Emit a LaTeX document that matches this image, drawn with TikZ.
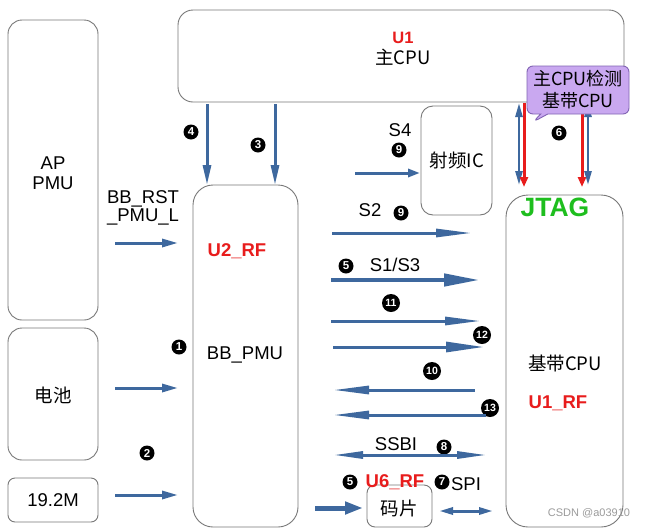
\documentclass[tikz,border=0pt]{standalone}
\usepackage{fontspec}
\setmainfont{Liberation Sans}
\newfontfamily\cjk{Noto Sans CJK SC}
\usetikzlibrary{arrows.meta,shapes.callouts}
\newcommand\myfs[2]{\fontsize{#1}{#2}\selectfont}
\definecolor{boxgray}{RGB}{120,120,120}
\definecolor{myblue}{RGB}{62,104,158}
\definecolor{myred}{RGB}{232,28,28}
\definecolor{mygreen}{RGB}{30,190,30}
\definecolor{calloutfill}{RGB}{201,168,240}
\definecolor{calloutdraw}{RGB}{130,100,180}
\definecolor{wmgray}{RGB}{155,155,155}
\begin{document}
\begin{tikzpicture}[x=1pt,y=-1pt,
  box/.style={draw=boxgray, line width=0.9pt, fill=white, inner sep=0pt},
  lbl/.style={font=\myfs{18.5}{20}, inner sep=0pt, align=center},
  cn/.style={font=\cjk\myfs{18.5}{20}, inner sep=0pt, align=center},
  redlbl/.style={text=myred, font=\bfseries\myfs{18.5}{20}, inner sep=0pt},
  num/.style={circle, fill=black, text=white, inner sep=0pt, minimum size=15pt, font=\bfseries\myfs{11.5}{12}},
  numw/.style={circle, fill=black, text=white, inner sep=0pt, minimum size=18pt, font=\bfseries\myfs{10.5}{11}},
  barrow/.style={draw=myblue, line width=3pt, -{Triangle[length=16pt,width=8pt]}},
  longarrow/.style={draw=myblue, line width=3pt, -{Triangle[length=36pt,width=8pt]}},
  fatarrow/.style={draw=myblue, line width=4.5pt, -{Triangle[length=36pt,width=12pt]}},
  backarrow/.style={draw=myblue, line width=3pt, {Triangle[length=36pt,width=8pt]}-},
  dblarrow/.style={draw=myblue, line width=3pt, {Triangle[length=30pt,width=7pt]}-{Triangle[length=30pt,width=7pt]}},
  shortdbl/.style={draw=myblue, line width=3pt, {Triangle[length=14pt,width=7pt]}-{Triangle[length=14pt,width=7pt]}},
  vdbl/.style={draw=myblue, line width=2.5pt, {Triangle[length=14pt,width=7pt]}-{Triangle[length=14pt,width=7pt]}},
  redarrow/.style={draw=myred, line width=3pt, -{Triangle[length=10pt,width=8pt]}}
]
\useasboundingbox (0,0) rectangle (646,528);
\fill[white] (0,0) rectangle (646,528);

% boxes
\node[box, rounded corners=15pt, minimum width=446pt, minimum height=92pt] (u1) at (401,56) {};
\node[box, rounded corners=14pt, minimum width=90pt, minimum height=300pt] (ap) at (53,170) {};
\node[box, rounded corners=14pt, minimum width=90pt, minimum height=132pt] (bat) at (53,394) {};
\node[box, rounded corners=7pt, minimum width=90pt, minimum height=44pt] (clk) at (53,500) {};
\node[box, rounded corners=20pt, minimum width=105pt, minimum height=342pt] (u2) at (245.5,356) {};
\node[box, rounded corners=12pt, minimum width=71pt, minimum height=109pt] (rf) at (456.5,160.5) {};
\node[box, rounded corners=22pt, minimum width=117pt, minimum height=332pt] (bb) at (564.5,361) {};
\node[box, rounded corners=8pt, minimum width=65pt, minimum height=42pt] (chip) at (399.5,506) {};

% box texts
\node[redlbl, font=\bfseries\myfs{16.5}{18}] (u1t) at (403,38) {U1};
\node[cn] (u1c) at (403,57) {主CPU};
\node[lbl] (apt) at (53,173) {AP\\PMU};
\node[cn] (batt) at (53,395) {电池};
\node[lbl] (clkt) at (53,500) {19.2M};
\node[redlbl] (u2t) at (237,251) {U2\_RF};
\node[lbl] (u2c) at (245,355) {BB\_PMU};
\node[cn] (rft) at (457,160) {射频IC};
\node[text=mygreen, font=\bfseries\myfs{26.5}{27}, inner sep=0pt] (jtag) at (555,207) {JTAG};
\node[cn] (bbt) at (565,363) {基带CPU};
\node[redlbl] (u1rf) at (558,403) {U1\_RF};
\node[cn] (chipt) at (399,508) {码片};

% signal labels
\node[lbl, font=\myfs{18.5}{15.5}] (rst) at (143,208) {BB\_RST\\\_PMU\_L};
\node[lbl] (s4) at (400,130) {S4};
\node[lbl] (s2) at (370,210) {S2};
\node[lbl] (s13) at (395,265) {S1/S3};
\node[lbl] (ssbi) at (396,444) {SSBI};
\node[redlbl] (u6) at (395,482) {U6\_RF};
\node[lbl] (spi) at (466,484) {SPI};

% numbers
\node[num] (n4) at (191,132) {4};
\node[num] (n3) at (258,145) {3};
\node[num] (n1) at (179,347) {1};
\node[num] (n2) at (147,453) {2};
\node[num] (n9a) at (399,150) {9};
\node[num] (n9b) at (401,213) {9};
\node[num] (n5a) at (346,266) {5};
\node[num] (n6) at (559,133) {6};
\node[numw] (n11) at (391,303) {11};
\node[numw] (n12) at (482,335) {12};
\node[numw] (n10) at (432,371) {10};
\node[numw] (n13) at (490,408) {13};
\node[num] (n8) at (444,447) {8};
\node[num] (n5b) at (350,482) {5};
\node[num] (n7) at (442,482) {7};

% coordinates for connector ends
\coordinate (a4s) at (207,104);  \coordinate (a4e) at (207,185);
\coordinate (a3s) at (275,104);  \coordinate (a3e) at (275,185);
\coordinate (rsts) at (115,243); \coordinate (rste) at (178,243);
\coordinate (bats) at (115,388); \coordinate (bate) at (178,388);
\coordinate (clks) at (115,495); \coordinate (clke) at (178,495);
\coordinate (s4s) at (355,173);  \coordinate (s4e) at (420,173);
\coordinate (s2s) at (332,233);  \coordinate (s2e) at (472,233);
\coordinate (s13s) at (331,280); \coordinate (s13e) at (480,280);
\coordinate (s11s) at (331,321); \coordinate (s11e) at (481,321);
\coordinate (s12s) at (333,347); \coordinate (s12e) at (484,347);
\coordinate (s10s) at (333,390); \coordinate (s10e) at (475,390);
\coordinate (s13bs) at (333,415); \coordinate (s13be) at (486,415);
\coordinate (ssbis) at (333,455); \coordinate (ssbie) at (487,455);
\coordinate (chs) at (315,508);  \coordinate (che) at (363,508);
\coordinate (spis) at (439,511); \coordinate (spie) at (493,511);
\coordinate (j1s) at (519,103);  \coordinate (j1e) at (519,185);
\coordinate (j2s) at (524,103);  \coordinate (j2e) at (524,187);
\coordinate (j3s) at (582,103);  \coordinate (j3e) at (582,187);
\coordinate (j4s) at (588,103);  \coordinate (j4e) at (588,185);

% connectors
\draw[barrow, -{Triangle[length=20pt,width=8pt]}] (a4s) -- (a4e);
\draw[barrow, -{Triangle[length=20pt,width=8pt]}] (a3s) -- (a3e);
\draw[barrow] (rsts) -- (rste);
\draw[barrow] (bats) -- (bate);
\draw[barrow] (clks) -- (clke);
\draw[barrow, -{Triangle[length=12pt,width=8pt]}] (s4s) -- (s4e);
\draw[longarrow] (s2s) -- (s2e);
\draw[fatarrow] (s13s) -- (s13e);
\draw[longarrow] (s11s) -- (s11e);
\draw[longarrow, -{Triangle[length=38pt,width=10pt]}] (s12s) -- (s12e);
\draw[backarrow] (s10s) -- (s10e);
\draw[backarrow] (s13bs) -- (s13be);
\draw[dblarrow] (ssbis) -- (ssbie);
\draw[fatarrow, line width=5pt, -{Triangle[length=18pt,width=12pt]}] (chs) -- (che);
\draw[shortdbl] (spis) -- (spie);
\draw[vdbl] (j1s) -- (j1e);
\draw[redarrow] (j2s) -- (j2e);
\draw[redarrow] (j3s) -- (j3e);
\draw[vdbl] (j4s) -- (j4e);

% callout
\node[rectangle callout, callout absolute pointer={(533,122)}, fill=calloutfill, draw=calloutdraw, line width=0.9pt, rounded corners=6pt, minimum width=102pt, minimum height=48pt, inner sep=1pt, align=center, font=\cjk\myfs{18}{22}] (note) at (578,90) {主CPU检测\\基带CPU};

% watermark
\node[text=wmgray, font=\myfs{11}{12}, inner sep=0pt] (wm) at (589,513) {CSDN @a03910};
\end{tikzpicture}
\end{document}
